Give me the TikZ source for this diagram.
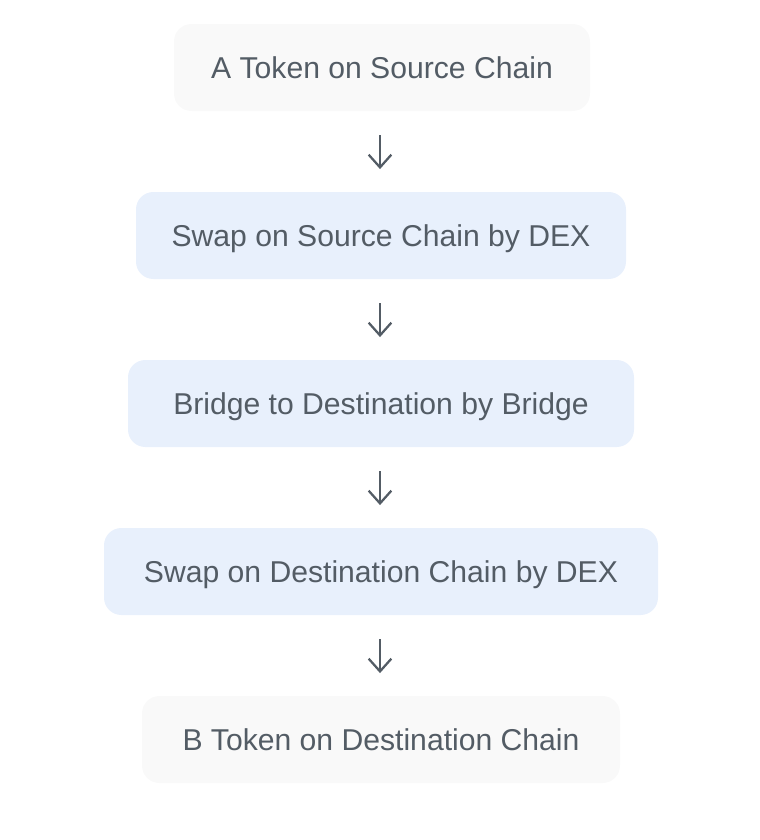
\documentclass[tikz,border=0pt]{standalone}
\usepackage{fontspec}
\setmainfont{Liberation Sans}
\usetikzlibrary{arrows.meta,positioning}
\definecolor{txtgray}{HTML}{535C65}
\definecolor{boxgray}{HTML}{F9F9F9}
\definecolor{boxblue}{HTML}{E8F0FC}
\begin{document}
\begin{tikzpicture}[
    x=0.75pt, y=-0.75pt,
    tok/.style={rounded corners=13pt, minimum height=65.25pt, align=center, text height=16.2pt, text depth=0pt, fill=boxgray, text=txtgray, font=\fontsize{22.6}{26}\selectfont},
    act/.style={tok, fill=boxblue},
    arr/.style={-{Straight Barb[length=9.5pt, width=17pt, line width=1.7pt]}, line width=1.7pt, draw=txtgray, shorten <=18pt, shorten >=17pt}
]
\useasboundingbox (0,0) rectangle (760,840);
\node[tok, minimum width=312pt] (srctok) at (382,67.5) {A Token on Source Chain};
\node[act, minimum width=367.5pt] (srcswap) at (381,235.5) {Swap on Source Chain by DEX};
\node[act, minimum width=379.5pt] (bridge) at (381,403.5) {Bridge to Destination by Bridge};
\node[act, minimum width=415.5pt] (dstswap) at (381,571.5) {Swap on Destination Chain by DEX};
\node[tok, minimum width=358.5pt] (dsttok) at (381,739.5) {B Token on Destination Chain};

\draw[arr] (srctok.south -| 380,0) -- (srcswap.north -| 380,0);
\draw[arr] (srcswap.south -| 380,0) -- (bridge.north -| 380,0);
\draw[arr] (bridge.south -| 380,0) -- (dstswap.north -| 380,0);
\draw[arr] (dstswap.south -| 380,0) -- (dsttok.north -| 380,0);
\end{tikzpicture}
\end{document}
